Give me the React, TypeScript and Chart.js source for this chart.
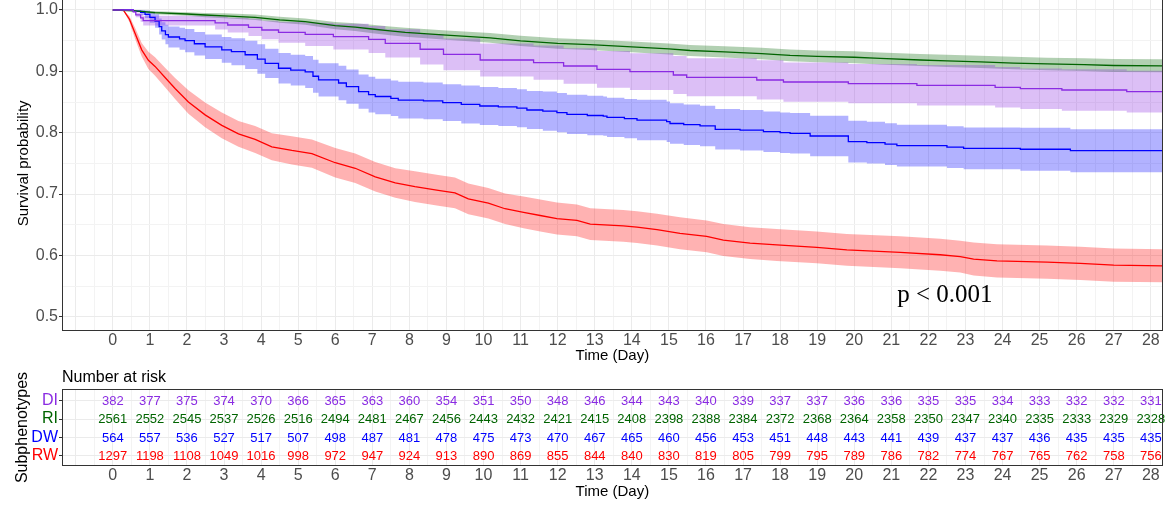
import React, { useEffect, useRef } from 'react';
import { Chart, registerables } from 'chart.js';
Chart.register(...registerables);

// ---------- DATA ----------
const groups = ['DI', 'RI', 'DW', 'RW'];
const groupColors = ['#8A2BE2', '#006400', '#0000FF', '#FF0000'];
const bandColors = ['rgba(138,43,226,0.3)', 'rgba(0,100,0,0.3)', 'rgba(0,0,255,0.3)', 'rgba(255,0,0,0.3)'];

// DI (step curve)
const diTime = [0, 0.55, 0.62, 0.75, 0.82, 2.76, 3.1, 3.66, 4.02, 4.47, 5.19, 5.95, 6.9, 7.35, 8.29, 8.92, 9.91, 11.35, 12.16, 13.06, 13.95, 15.12, 15.48, 17.37, 18.09, 19.84, 21.69, 23.8, 24.48, 25.6, 27.35, 28.32];
const diSurv = [1, 0.997, 0.992, 0.987, 0.9826, 0.979, 0.9755, 0.9718, 0.9674, 0.9636, 0.9604, 0.9565, 0.952, 0.9457, 0.936, 0.9277, 0.9185, 0.9141, 0.9087, 0.9033, 0.8994, 0.894, 0.8902, 0.8859, 0.8826, 0.88, 0.8772, 0.874, 0.8717, 0.8696, 0.8668, 0.8668];
const diCi = [0, 0.001, 0.004, 0.006, 0.008, 0.011, 0.012, 0.014, 0.015, 0.017, 0.019, 0.021, 0.022, 0.023, 0.025, 0.026, 0.027, 0.028, 0.029, 0.03, 0.03, 0.031, 0.031, 0.032, 0.032, 0.032, 0.033, 0.033, 0.033, 0.034, 0.034, 0.034];

// RI
const riTime = [0, 0.6, 1.14, 2.0, 2.49, 3.0, 3.84, 4.5, 5.19, 6.0, 6.54, 7.0, 7.48, 7.89, 9.0, 10.18, 11.0, 12.0, 12.88, 14.0, 15.0, 15.57, 16.5, 17.5, 18.27, 19.0, 20.0, 20.7, 21.78, 22.5, 23.4, 24.3, 25.2, 26.2, 27.0, 28.32];
const riSurv = [1, 0.9985, 0.9956, 0.9935, 0.9918, 0.9905, 0.988, 0.984, 0.981, 0.9745, 0.972, 0.969, 0.966, 0.9636, 0.959, 0.9545, 0.9497, 0.9455, 0.9435, 0.94, 0.9365, 0.934, 0.9318, 0.929, 0.926, 0.9245, 0.923, 0.921, 0.9185, 0.917, 0.9155, 0.9135, 0.912, 0.9108, 0.9095, 0.909];
const riCi = [0, 0.001, 0.0025, 0.003, 0.0035, 0.004, 0.0045, 0.0048, 0.005, 0.006, 0.0064, 0.0068, 0.007, 0.0073, 0.0076, 0.008, 0.0082, 0.0085, 0.0086, 0.0088, 0.009, 0.009, 0.0092, 0.0094, 0.0095, 0.0096, 0.0097, 0.0098, 0.0099, 0.01, 0.0101, 0.0102, 0.0103, 0.0104, 0.0105, 0.0105];

// DW (step curve)
const dwTime = [0, 0.55, 0.75, 0.87, 1.0, 1.14, 1.25, 1.32, 1.42, 1.5, 1.8, 1.95, 2.2, 2.49, 2.94, 3.2, 3.57, 3.9, 4.11, 4.47, 4.8, 5.19, 5.4, 5.55, 6.09, 6.3, 6.63, 6.9, 7.08, 7.5, 7.7, 8.38, 8.9, 9.4, 9.9, 10.4, 10.9, 11.17, 11.6, 11.98, 12.25, 12.8, 13.23, 13.33, 13.8, 14.14, 14.94, 15.03, 15.4, 15.84, 16.25, 16.92, 17.55, 18.0, 18.27, 18.81, 19.84, 20.34, 20.83, 21.15, 22.5, 22.95, 24.48, 25.83, 28.32];
const dwSurv = [1, 0.998, 0.996, 0.993, 0.988, 0.982, 0.973, 0.966, 0.96, 0.956, 0.953, 0.95, 0.945, 0.94, 0.935, 0.932, 0.927, 0.92, 0.913, 0.905, 0.902, 0.899, 0.892, 0.886, 0.881, 0.875, 0.867, 0.862, 0.859, 0.856, 0.853, 0.852, 0.849, 0.846, 0.8435, 0.842, 0.84, 0.837, 0.835, 0.8326, 0.83, 0.828, 0.827, 0.825, 0.823, 0.8206, 0.818, 0.815, 0.813, 0.811, 0.8055, 0.804, 0.8016, 0.8, 0.799, 0.7946, 0.7853, 0.7837, 0.7815, 0.779, 0.7766, 0.7745, 0.773, 0.7706, 0.7706];
const dwCi = [0, 0.001, 0.004, 0.006, 0.009, 0.011, 0.013, 0.014, 0.016, 0.017, 0.018, 0.019, 0.019, 0.02, 0.021, 0.022, 0.023, 0.024, 0.024, 0.025, 0.025, 0.026, 0.027, 0.027, 0.028, 0.028, 0.028, 0.029, 0.029, 0.029, 0.03, 0.03, 0.03, 0.031, 0.031, 0.031, 0.031, 0.031, 0.032, 0.032, 0.032, 0.032, 0.032, 0.032, 0.032, 0.033, 0.033, 0.033, 0.033, 0.033, 0.033, 0.033, 0.033, 0.033, 0.033, 0.033, 0.034, 0.034, 0.034, 0.034, 0.034, 0.034, 0.035, 0.035, 0.035];

// RW
const rwTime = [0, 0.28, 0.45, 0.6, 0.78, 0.96, 1.14, 1.41, 1.68, 2.04, 2.49, 2.94, 3.39, 3.84, 4.29, 4.83, 5.37, 6.0, 6.54, 7.08, 7.62, 8.15, 8.78, 9.23, 9.59, 10.13, 10.58, 11.08, 11.53, 11.98, 12.52, 12.88, 13.77, 14.14, 14.68, 15.3, 16.02, 16.47, 17.19, 17.91, 18.99, 19.8, 21.24, 22.32, 22.86, 23.22, 23.85, 25.2, 26.1, 27.0, 28.32];
const rwSurv = [1, 1, 0.985, 0.962, 0.935, 0.918, 0.908, 0.89, 0.872, 0.85, 0.829, 0.812, 0.798, 0.789, 0.777, 0.771, 0.766, 0.751, 0.742, 0.728, 0.718, 0.712, 0.706, 0.702, 0.692, 0.685, 0.676, 0.67, 0.665, 0.66, 0.657, 0.651, 0.648, 0.646, 0.642, 0.636, 0.631, 0.625, 0.62, 0.617, 0.613, 0.609, 0.605, 0.601, 0.598, 0.594, 0.591, 0.589, 0.587, 0.584, 0.583];
const rwCi = [0, 0, 0.005, 0.009, 0.011, 0.014, 0.015, 0.016, 0.017, 0.019, 0.02, 0.021, 0.021, 0.022, 0.022, 0.023, 0.023, 0.024, 0.024, 0.024, 0.024, 0.025, 0.025, 0.025, 0.025, 0.025, 0.025, 0.026, 0.026, 0.026, 0.026, 0.026, 0.026, 0.026, 0.026, 0.026, 0.026, 0.026, 0.026, 0.026, 0.026, 0.026, 0.026, 0.026, 0.026, 0.027, 0.027, 0.027, 0.027, 0.027, 0.027];

// Number at risk table
const riskDays = [0, 1, 2, 3, 4, 5, 6, 7, 8, 9, 10, 11, 12, 13, 14, 15, 16, 17, 18, 19, 20, 21, 22, 23, 24, 25, 26, 27, 28];
const riskDI = [382, 377, 375, 374, 370, 366, 365, 363, 360, 354, 351, 350, 348, 346, 344, 343, 340, 339, 337, 337, 336, 336, 335, 335, 334, 333, 332, 332, 331];
const riskRI = [2561, 2552, 2545, 2537, 2526, 2516, 2494, 2481, 2467, 2456, 2443, 2432, 2421, 2415, 2408, 2398, 2388, 2384, 2372, 2368, 2364, 2358, 2350, 2347, 2340, 2335, 2333, 2329, 2328];
const riskDW = [564, 557, 536, 527, 517, 507, 498, 487, 481, 478, 475, 473, 470, 467, 465, 460, 456, 453, 451, 448, 443, 441, 439, 437, 437, 436, 435, 435, 435];
const riskRW = [1297, 1198, 1108, 1049, 1016, 998, 972, 947, 924, 913, 890, 869, 855, 844, 840, 830, 819, 805, 799, 795, 789, 786, 782, 774, 767, 765, 762, 758, 756];

const yTickValues = [0.5, 0.55, 0.6, 0.65, 0.7, 0.75, 0.8, 0.85, 0.9, 0.95, 1.0];
const pValueText = 'p < 0.001';
const pValuePos = { x: 21.16, y: 0.524 };

// ---------- LAYOUT / STYLE ----------
const X_MIN = -1.37;
const X_MAX = 28.32;
const SANS = "'Liberation Sans', Arial, Helvetica, sans-serif";
const GRID_MAJOR = '#EBEBEB';
const GRID_MINOR = '#F3F3F3';
const TICK_COLOR = '#4D4D4D';

function xGridTicks() {
  const arr: { value: number }[] = [];
  for (let k = -2; k <= 56; k++) arr.push({ value: k / 2 });
  return arr;
}

function seriesDatasets(time: number[], surv: number[], ci: number[], i: number, stepped: any) {
  const up = time.map((t, k) => ({ x: t, y: Math.min(1, surv[k] + ci[k]) }));
  const lo = time.map((t, k) => ({ x: t, y: surv[k] - ci[k] }));
  const line = time.map((t, k) => ({ x: t, y: surv[k] }));
  return {
    bands: [
      { data: up, fill: '+1', backgroundColor: bandColors[i], borderColor: 'transparent', borderWidth: 0, pointRadius: 0, stepped },
      { data: lo, fill: false, backgroundColor: 'transparent', borderColor: 'transparent', borderWidth: 0, pointRadius: 0, stepped },
    ],
    line: { data: line, fill: false, borderColor: groupColors[i], borderWidth: 1.3, pointRadius: 0, stepped },
  };
}

const noPadX = (h: number) => (s: any) => {
  s.height = h;
  s.paddingLeft = 0;
  s.paddingRight = 0;
  s.paddingTop = 0;
  s.paddingBottom = 0;
};
const noPadY = (w: number) => (s: any) => {
  s.width = w;
  s.paddingLeft = 0;
  s.paddingRight = 0;
  s.paddingTop = 0;
  s.paddingBottom = 0;
};

export default function App() {
  const mainRef = useRef<HTMLCanvasElement>(null);
  const riskRef = useRef<HTMLCanvasElement>(null);

  useEffect(() => {
    const series = [
      seriesDatasets(diTime, diSurv, diCi, 0, 'before'),
      seriesDatasets(riTime, riSurv, riCi, 1, false),
      seriesDatasets(dwTime, dwSurv, dwCi, 2, 'before'),
      seriesDatasets(rwTime, rwSurv, rwCi, 3, false),
    ];
    const datasets: any[] = [];
    series.forEach((s) => datasets.push(...s.bands));
    series.forEach((s) => datasets.push(s.line));

    const mainDecor = {
      id: 'mainDecor',
      afterDraw(chart: any) {
        const ctx = chart.ctx;
        const ca = chart.chartArea;
        const xs = chart.scales.x;
        const ys = chart.scales.y;
        ctx.save();
        ctx.strokeStyle = '#333333';
        ctx.lineWidth = 1;
        ctx.strokeRect(Math.round(ca.left) + 0.5, Math.round(ca.top) + 0.5, Math.round(ca.right) - Math.round(ca.left) - 1, Math.round(ca.bottom) - Math.round(ca.top) - 1);
        ctx.fillStyle = '#000';
        ctx.font = `25px 'Liberation Serif', 'Times New Roman', serif`;
        ctx.textAlign = 'left';
        ctx.textBaseline = 'alphabetic';
        ctx.fillText(pValueText, xs.getPixelForValue(pValuePos.x), ys.getPixelForValue(pValuePos.y));
        ctx.font = `15px ${SANS}`;
        ctx.textAlign = 'center';
        ctx.textBaseline = 'middle';
        ctx.fillText('Time (Day)', (ca.left + ca.right) / 2, 366);
        ctx.translate(24, (ca.top + ca.bottom) / 2);
        ctx.rotate(-Math.PI / 2);
        ctx.fillText('Survival probability', 0, 0);
        ctx.restore();
      },
    };

    const main = new Chart(mainRef.current!, {
      type: 'line',
      data: { datasets },
      options: {
        animation: false,
        responsive: false,
        maintainAspectRatio: false,
        devicePixelRatio: 1,
        events: [],
        layout: { padding: { left: 0, right: 5.3, top: 5.7, bottom: 0 } },
        plugins: {
          legend: { display: false },
          tooltip: { enabled: false },
          filler: { drawTime: 'beforeDatasetsDraw' },
        },
        scales: {
          x: {
            type: 'linear',
            min: X_MIN,
            max: X_MAX,
            afterBuildTicks: (s: any) => { s.ticks = xGridTicks(); },
            afterFit: noPadX(34),
            border: { display: false },
            grid: {
              drawTicks: false,
              color: (c: any) => (Number.isInteger(c.tick.value) ? GRID_MAJOR : GRID_MINOR),
              lineWidth: 1,
            },
            ticks: {
              autoSkip: false,
              maxRotation: 0,
              padding: 0,
              color: TICK_COLOR,
              font: { family: SANS, size: 16 },
              callback: (v: any) => (Number.isInteger(v) && v >= 0 ? String(v) : ''),
            },
          },
          y: {
            type: 'linear',
            min: 0.4767,
            max: 1.0233,
            afterBuildTicks: (s: any) => { s.ticks = yTickValues.map((v) => ({ value: v })); },
            afterFit: noPadY(62),
            border: { display: false },
            grid: {
              color: (c: any) => (Math.round(c.tick.value * 100) % 10 === 0 ? GRID_MAJOR : GRID_MINOR),
              tickColor: (c: any) => (Math.round(c.tick.value * 100) % 10 === 0 ? '#333333' : 'transparent'),
              tickLength: 3,
              lineWidth: 1,
            },
            ticks: {
              padding: 1,
              color: TICK_COLOR,
              font: { family: SANS, size: 16 },
              callback: (v: any) => (Math.round(v * 100) % 10 === 0 ? Number(v).toFixed(1) : ''),
            },
          },
        },
      },
      plugins: [mainDecor],
    } as any);

    const riskRows = [riskDI, riskRI, riskDW, riskRW];
    const riskDecor = {
      id: 'riskDecor',
      afterDraw(chart: any) {
        const ctx = chart.ctx;
        const ca = chart.chartArea;
        const xs = chart.scales.x;
        const ys = chart.scales.y;
        ctx.save();
        ctx.font = `13px ${SANS}`;
        ctx.textAlign = 'center';
        ctx.textBaseline = 'middle';
        riskRows.forEach((row, i) => {
          ctx.fillStyle = groupColors[i];
          row.forEach((n, j) => {
            ctx.fillText(String(n), xs.getPixelForValue(riskDays[j]), ys.getPixelForValue(i) + 0.5);
          });
        });
        ctx.strokeStyle = '#333333';
        ctx.lineWidth = 1;
        ctx.strokeRect(Math.round(ca.left) + 0.5, Math.round(ca.top) + 0.5, Math.round(ca.right) - Math.round(ca.left) - 1, Math.round(ca.bottom) - Math.round(ca.top) - 1);
        ctx.fillStyle = '#000';
        ctx.font = `16px ${SANS}`;
        ctx.textAlign = 'left';
        ctx.fillText('Number at risk', ca.left, 12.5);
        ctx.font = `15px ${SANS}`;
        ctx.textAlign = 'center';
        ctx.fillText('Time (Day)', (ca.left + ca.right) / 2, 126.5);
        ctx.font = `16px ${SANS}`;
        ctx.translate(23, (ca.top + ca.bottom) / 2);
        ctx.rotate(-Math.PI / 2);
        ctx.fillText('Subphenotypes', 0, 0);
        ctx.restore();
      },
    };

    const risk = new Chart(riskRef.current!, {
      type: 'scatter',
      data: { datasets: [{ data: [] }] },
      options: {
        animation: false,
        responsive: false,
        maintainAspectRatio: false,
        devicePixelRatio: 1,
        events: [],
        layout: { padding: { left: 0, right: 5.3, top: 24, bottom: 0 } },
        plugins: { legend: { display: false }, tooltip: { enabled: false } },
        scales: {
          x: {
            type: 'linear',
            min: X_MIN,
            max: X_MAX,
            afterBuildTicks: (s: any) => { s.ticks = xGridTicks(); },
            afterFit: noPadX(45),
            border: { display: false },
            grid: {
              drawTicks: false,
              color: (c: any) => (Number.isInteger(c.tick.value) ? GRID_MAJOR : GRID_MINOR),
              lineWidth: 1,
            },
            ticks: {
              autoSkip: false,
              maxRotation: 0,
              padding: 0,
              color: TICK_COLOR,
              font: { family: SANS, size: 16 },
              callback: (v: any) => (Number.isInteger(v) && v >= 0 ? String(v) : ''),
            },
          },
          y: {
            type: 'linear',
            reverse: true,
            min: -0.63,
            max: 3.55,
            afterBuildTicks: (s: any) => { s.ticks = groups.map((_, i) => ({ value: i })); },
            afterFit: noPadY(62),
            border: { display: false },
            grid: {
              color: GRID_MAJOR,
              tickColor: '#333333',
              tickLength: 3,
              lineWidth: 1,
            },
            ticks: {
              padding: 1,
              color: (c: any) => groupColors[c.tick.value] || '#000',
              font: { family: SANS, size: 16 },
              callback: (v: any) => groups[v] ?? '',
            },
          },
        },
      },
      plugins: [riskDecor],
    } as any);

    return () => {
      main.destroy();
      risk.destroy();
    };
  }, []);

  return (
    <div style={{ position: 'fixed', left: 0, top: 0, width: 1168, height: 511, overflow: 'hidden', background: '#fff' }}>
      <canvas ref={mainRef} width={1168} height={375} style={{ position: 'absolute', left: 0, top: -10, width: 1168, height: 375 }} />
      <canvas ref={riskRef} width={1168} height={146} style={{ position: 'absolute', left: 0, top: 365, width: 1168, height: 146 }} />
    </div>
  );
}
